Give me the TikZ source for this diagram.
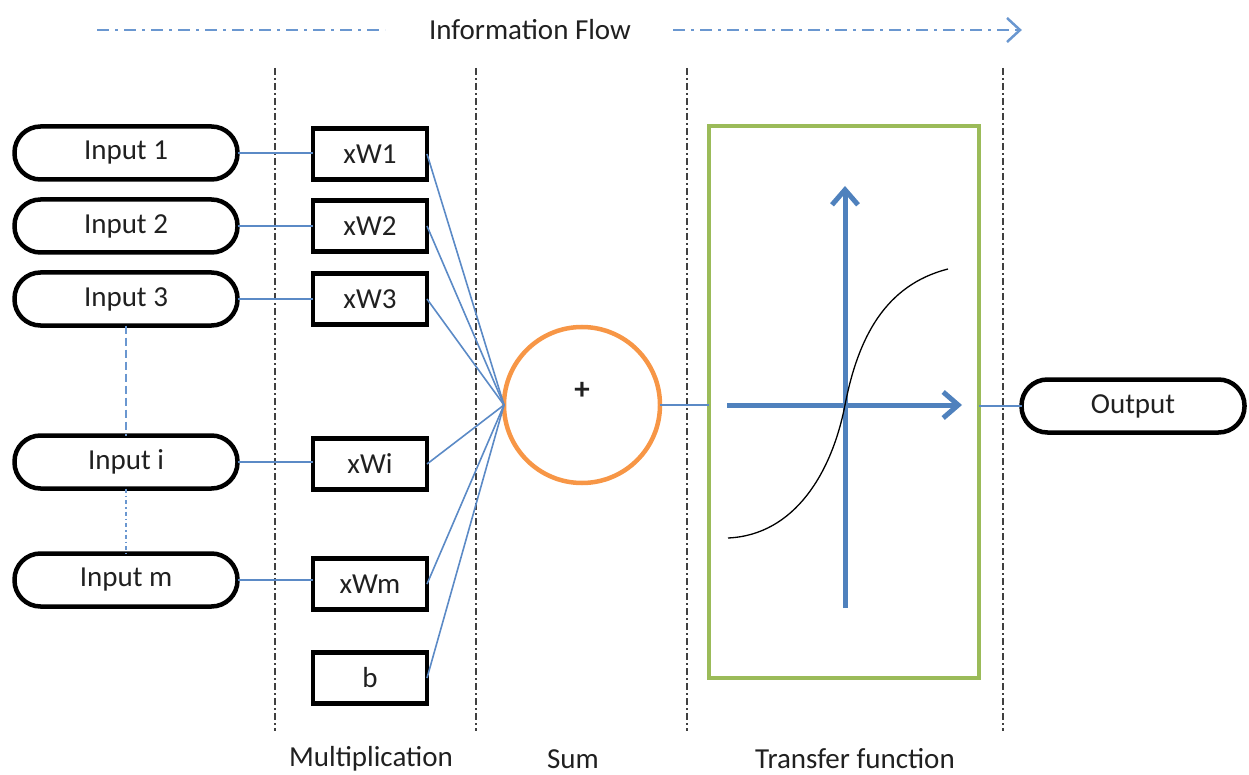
\documentclass[tikz,border=0pt]{standalone}
\usepackage{fontspec}
\setmainfont{Carlito}
\usetikzlibrary{arrows.meta}
\definecolor{lblue}{HTML}{4F81BD}
\definecolor{cblue}{HTML}{5B8AC6}
\definecolor{fblue}{HTML}{6A97D0}
\definecolor{tgreen}{HTML}{9BBB59}
\definecolor{sorange}{HTML}{F79646}
\definecolor{sepgray}{HTML}{404040}
\definecolor{txt}{HTML}{202020}
\begin{document}
\begin{tikzpicture}[x=1pt,y=-1pt,
  font=\fontsize{29}{34}\selectfont, text=txt,
  pill/.style={draw=black, line width=4.5pt, rounded corners=26pt, minimum width=223pt, minimum height=53pt, inner sep=0pt, outer sep=0pt},
  wbox/.style={draw=black, line width=4.5pt, minimum width=114pt, minimum height=51pt, inner sep=0pt, outer sep=0pt},
  conn/.style={draw=cblue, line width=1.6pt},
  hconn/.style={draw=cblue, line width=2.2pt},
  sepline/.style={draw=sepgray, line width=2pt, dash pattern=on 7pt off 3pt on 2pt off 3pt},
  flowline/.style={draw=fblue, line width=2.5pt, dash pattern=on 12pt off 6pt on 3pt off 6pt},
  axisarrow/.style={draw=lblue, line width=5pt, -{Straight Barb[length=15pt,width=26pt]}},
  label/.style={inner sep=0pt}]
\useasboundingbox (0,0) rectangle (1249,775);

% header
\node[label] (flow) at (530,30) {Information Flow};
\coordinate (fl1) at (97,30);
\coordinate (fl2) at (385,30);
\coordinate (fr1) at (673,30);
\coordinate (fr2) at (1020,30);
\draw[flowline] (fl1) -- (fl2);
\draw[flowline] (fr1) -- (fr2);
\draw[draw=fblue, line width=2.5pt] (1007,18) -- (1020,30) -- (1007,42);

% separators
\foreach \x/\n in {275/a,476/b,687/c,1003/d}{
  \coordinate (s\n1) at (\x,68);
  \coordinate (s\n2) at (\x,731);
  \draw[sepline] (s\n1) -- (s\n2);
}

% inputs
\node[pill] (in1) at (126,153) {Input 1};
\node[pill] (in2) at (126,226) {Input 2};
\node[pill] (in3) at (126,299) {Input 3};
\node[pill] (ini) at (126,462) {Input i};
\node[pill] (inm) at (126,580) {Input m};

% weights
\node[wbox] (w1) at (370,154) {xW1};
\node[wbox] (w2) at (370,226) {xW2};
\node[wbox] (w3) at (370,299) {xW3};
\node[wbox] (wi) at (370,464) {xWi};
\node[wbox] (wm) at (370,584) {xWm};
\node[wbox] (wb) at (370,678) {b};

% sum
\node[circle, draw=sorange, line width=4.5pt, minimum size=156pt, inner sep=0pt, outer sep=0pt] (sum) at (582,405) {};
\node[label, font=\fontsize{31}{34}\selectfont\bfseries] (plus) at (582,391) {+};

% transfer function box
\node[draw=tgreen, line width=4.5pt, minimum width=270pt, minimum height=552pt, inner sep=0pt, outer sep=0pt] (tf) at (844,402) {};

% output
\node[pill] (out) at (1133,406) {Output};

% input-weight connectors
\foreach \a/\b in {in1/w1,in2/w2,in3/w3,ini/wi,inm/wm}{
  \draw[hconn] (\a.east) -- (\a.east -| \b.west);
}
% weight-sum connectors
\foreach \b in {w1,w2,w3,wi,wm,wb}{
  \draw[conn] (\b.east) -- (sum.west);
}
% dotted continuation between inputs
\draw[draw=fblue, line width=1.6pt, dash pattern=on 8pt off 4pt] (in3.south) -- (ini.north);
\draw[draw=fblue, line width=1.6pt, dash pattern=on 4pt off 3pt on 1.5pt off 3pt] (ini.south) -- (inm.north);

% sum -> tf -> output
\draw[hconn] (sum.east) -- (sum.east -| tf.west);
\draw[hconn] (tf.east |- out.west) -- (out.west);

% axes
\coordinate (vx0) at (845,608);
\coordinate (vx1) at (845,186);
\coordinate (hx0) at (727,405);
\coordinate (hx1) at (962,405);
\draw[axisarrow] (vx0) -- (vx1);
\draw[axisarrow] (hx0) -- (hx1);

% sigmoid
\coordinate (sg0) at (728,538);
\coordinate (sgm) at (845,405);
\coordinate (sg1) at (948,269);
\draw[black, line width=1.3pt] (sg0) .. controls (795,535) and (832,472) .. (sgm) .. controls (858,338) and (885,285) .. (sg1);

% bottom labels
\node[label] (lmul) at (371,759) {Multiplication};
\node[label] (lsum) at (573,759) {Sum};
\node[label] (ltf) at (855,759) {Transfer function};
\end{tikzpicture}
\end{document}
